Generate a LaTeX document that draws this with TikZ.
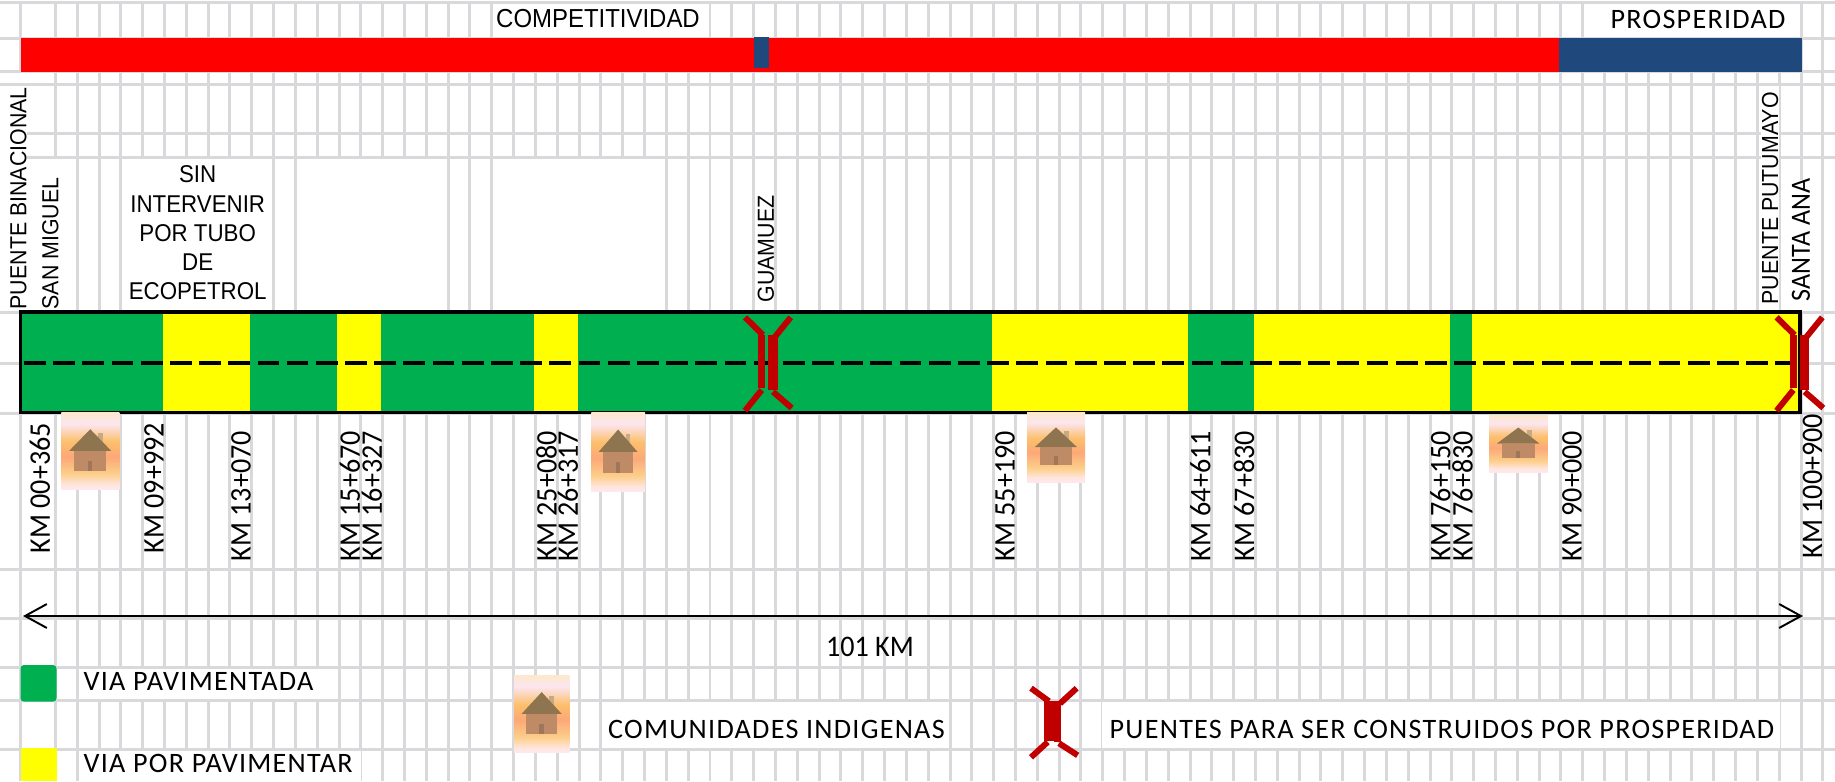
\documentclass[tikz,border=0pt]{standalone}
\usepackage{fontspec}
\setmainfont{Liberation Sans}
\newfontfamily\arialfont[FakeStretch=0.92]{Liberation Sans}
\newfontfamily\calfont[FakeStretch=0.94]{Carlito}
\newfontfamily\calwide[LetterSpace=4.5]{Carlito}
\usetikzlibrary{arrows.meta}
\definecolor{gridgray}{HTML}{D9D9DB}
\definecolor{viagreen}{HTML}{00B050}
\definecolor{viayellow}{HTML}{FFFF00}
\definecolor{barblue}{HTML}{1F497D}
\definecolor{puentered}{HTML}{C00000}
\definecolor{techo}{HTML}{8F7450}
\definecolor{muro}{HTML}{BE8B66}
\definecolor{puerta}{HTML}{A0765A}
\definecolor{chimenea}{HTML}{C9A884}
\pgfdeclareverticalshading{houseglow}{100bp}{rgb(0bp)=(1,.91,.93); rgb(25bp)=(1,.91,.93); rgb(28bp)=(1,.9,.88); rgb(35bp)=(.99,.81,.54); rgb(46bp)=(.99,.66,.47); rgb(56bp)=(.99,.75,.42); rgb(67.5bp)=(.99,.9,.94); rgb(75bp)=(.99,.91,.8); rgb(100bp)=(.99,.91,.8)}
\tikzset{
  gridline/.style={gridgray, line width=0.85pt},
  whitepatch/.style={fill=white},
  arial/.style={inner sep=0pt, font=\arialfont\fontsize{6.6}{8.3}\selectfont},
  kmlabel/.style={inner sep=0pt, rotate=90, anchor=west, font=\calfont\fontsize{8.5}{10}\selectfont},
  legendtext/.style={inner sep=0pt, anchor=west, font=\calwide\fontsize{8}{10}\selectfont},
  puentearm/.style={puentered, line width=1.7pt}
}
\newcommand{\casa}[4]{
  \begin{scope}[shift={(#1,#2)}, x=#3*0.01cm, y=-#4*0.01cm]
    \shade[shading=houseglow] (0,0) rectangle (1,1);
    \fill[chimenea] (0.64,0.27) rectangle (0.727,0.41);
    \fill[techo] (0.137,0.5) -- (0.5,0.22) -- (0.86,0.5) -- cycle;
    \fill[muro] (0.217,0.5) rectangle (0.776,0.76);
    \fill[puerta] (0.46,0.63) rectangle (0.534,0.76);
  \end{scope}
}
\newcommand{\puente}[5]{
  \begin{scope}[shift={(#1,#2)}, yscale=#3]
    \fill[puentered] (-8.7,-28) rectangle (#4,25.3);
    \fill[puentered] (1.3,-28) rectangle (#5,27);
    \draw[puentearm] (-22,-45.7) -- (-4,-28);
    \draw[puentearm] (23.7,-45.7) -- (7,-25);
    \draw[puentearm] (-5.3,27) -- (-22,47.7);
    \draw[puentearm] (6,28.7) -- (24.7,45);
  \end{scope}
}
\begin{document}
\begin{tikzpicture}[x=0.01cm, y=-0.01cm]
  \useasboundingbox (0,0) rectangle (1835,781);
  \foreach \k in {0,...,81}
    \draw[gridline] ({55.4+21.82*\k},2) -- ({55.4+21.82*\k},781);
  \draw[gridline] (20.5,2) -- (20.5,781);
  \foreach \r in {2,38,71.5,84,133,157,312,363,413,569,618,667,700,749}
    \draw[gridline] (0,\r) -- (1835,\r);

  \fill[whitepatch] (493,4) rectangle (707,37);
  \fill[whitepatch] (1586,4) rectangle (1799,37);
  \fill[whitepatch] (0,72.5) rectangle (22,82.5);
  \fill[whitepatch] (0,86) rectangle (27,310.5);
  \fill[whitepatch] (27,159) rectangle (75.5,310.5);
  \fill[whitepatch] (122.5,159) rectangle (271,310.5);
  \fill[whitepatch] (297,159) rectangle (446,310.5);
  \fill[whitepatch] (493.5,159) rectangle (664,310.5);
  \fill[whitepatch] (1761,86) rectangle (1778.5,310.5);
  \fill[whitepatch] (1790,180) rectangle (1813,310.5);
  \fill[whitepatch] (79,669) rectangle (338,698.5);
  \fill[whitepatch] (79,751) rectangle (361,781);
  \fill[whitepatch] (602,702) rectangle (949,747.5);
  \fill[whitepatch] (1102,702) rectangle (1780,747.5);

  \fill[red] (20.5,37.5) rectangle (1559.3,71.7);
  \fill[barblue] (1559.3,37.5) rectangle (1802,71.7);
  \fill[barblue] (754,37) rectangle (769,68);
  \node[arial, font=\arialfont\fontsize{7.4}{8}\selectfont] (competitividad) at (598,19) {COMPETITIVIDAD};
  \node[inner sep=0pt, font=\calwide\fontsize{8}{10}\selectfont] (prosperidad) at (1698,19) {PROSPERIDAD};

  \node[arial, rotate=90, anchor=west] (binacional) at (18.5,310) {PUENTE BINACIONAL};
  \node[arial, rotate=90, anchor=west] (sanmiguel) at (50.5,310) {SAN MIGUEL};
  \node[arial, align=center, font=\arialfont\fontsize{6.9}{8.3}\selectfont] (sinintervenir) at (197.7,233) {SIN\\INTERVENIR\\POR TUBO\\DE\\ECOPETROL};
  \node[arial, rotate=90, anchor=west] (guamuez) at (766,303) {GUAMUEZ};
  \node[arial, rotate=90, anchor=west] (putumayo) at (1770,305) {PUENTE PUTUMAYO};
  \node[kmlabel, font=\calfont\fontsize{7.9}{10}\selectfont] (santaana) at (1801,302) {SANTA ANA};

  \fill[viagreen] (20.5,312) rectangle (1800,412.5);
  \foreach \a/\b in {163/250,337/381,534/578,992/1188,1254/1450,1472/1800}
    \fill[viayellow] (\a,312) rectangle (\b,412.5);
  \draw[line width=0.9pt] (20.5,312) rectangle (1800,412.5);
  \coordinate (dashL) at (24,363);
  \coordinate (dashR) at (1795,363);
  \draw[line width=1.35pt, dash pattern=on 6.2pt off 2.1pt] (dashL) -- (dashR);
  \puente{767}{363}{1}{-2}{10.7}
  \puente{1798.6}{363}{1}{-2}{10.7}

  \casa{61.3}{412.3}{58}{77}
  \casa{591.3}{412}{53.7}{79.7}
  \casa{1027}{412}{58}{70}
  \casa{1489}{415}{58.7}{57}

  \node[kmlabel] (kma) at (40,554) {KM 00+365};
  \node[kmlabel] (kmb) at (154,554) {KM 09+992};
  \node[kmlabel] (kmc) at (241,562) {KM 13+070};
  \node[kmlabel] (kmd) at (350,562) {KM 15+670};
  \node[kmlabel] (kme) at (372,562) {KM 16+327};
  \node[kmlabel] (kmf) at (546.5,562) {KM 25+080};
  \node[kmlabel] (kmg) at (568,562) {KM 26+317};
  \node[kmlabel] (kmh) at (1005,562) {KM 55+190};
  \node[kmlabel] (kmi) at (1200.5,562) {KM 64+611};
  \node[kmlabel] (kmj) at (1244,562) {KM 67+830};
  \node[kmlabel] (kmk) at (1440.5,562) {KM 76+150};
  \node[kmlabel] (kml) at (1462.5,562) {KM 76+830};
  \node[kmlabel] (kmm) at (1572,562) {KM 90+000};
  \node[kmlabel] (kmn) at (1812.5,559) {KM 100+900};

  \coordinate (flechaL) at (23,616);
  \coordinate (flechaR) at (1803,616);
  \draw[{Straight Barb[length=6.2pt,width=6.8pt]}-{Straight Barb[length=6.2pt,width=6.8pt]}, line width=0.55pt] (flechaL) -- (flechaR);
  \node[inner sep=0pt, font=\calfont\fontsize{8.5}{10}\selectfont] (total) at (870,647) {101 KM};

  \fill[viagreen, rounded corners=1pt] (20.5,665) rectangle (56.5,701.7);
  \fill[viayellow] (20.5,747.7) rectangle (56.5,781);
  \node[legendtext] (leyverde) at (83,681) {VIA PAVIMENTADA};
  \node[legendtext] (leyamarillo) at (83,763) {VIA POR PAVIMENTAR};
  \casa{514}{675}{55.4}{77.7}
  \node[legendtext] (leycasa) at (607.5,729) {COMUNIDADES INDIGENAS};
  \puente{1053}{722}{0.74}{1}{8}
  \node[legendtext] (leypuente) at (1109,729) {PUENTES PARA SER CONSTRUIDOS POR PROSPERIDAD};
\end{tikzpicture}
\end{document}
